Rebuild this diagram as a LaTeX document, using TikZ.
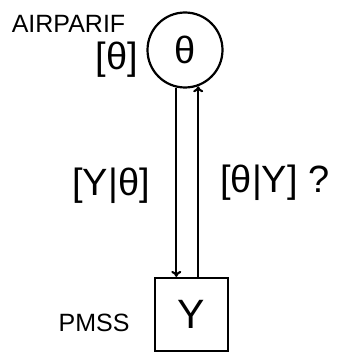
\documentclass[tikz,border=0pt]{standalone}
\usepackage{fontspec}
\setmainfont{Liberation Sans}
\usetikzlibrary{arrows.meta}
\begin{document}
\begin{tikzpicture}[x=1pt,y=1pt,
  lbl/.style={inner sep=0pt,font=\fontsize{38}{40}\selectfont},
  small/.style={inner sep=0pt,font=\fontsize{25}{28}\selectfont},
  conn/.style={line width=2.1pt,-{To[length=6pt,width=10pt]}}]
\useasboundingbox (0,0) rectangle (339,354);
\node[circle,draw,line width=2.2pt,minimum size=75pt,inner sep=0pt,font=\fontsize{38}{40}\selectfont] (theta) at (185,304) {θ};
\node[rectangle,draw,line width=2.2pt,minimum size=73pt,inner sep=0pt,font=\fontsize{41}{44}\selectfont] (Y) at (191.5,39.5) {Y};
\node[small] (air) at (68.5,330) {AIRPARIF};
\node[lbl] (prior) at (117,294) {[θ]};
\node[lbl] (lik) at (111,168) {[Y|θ]};
\node[lbl] (post) at (275,171) {[θ|Y] ?};
\node[small] (pmss) at (94,31.5) {PMSS};
\draw[conn] (theta.257.85) -- (theta.257.85 |- Y.north);
\draw[conn] (theta.290 |- Y.north) -- (theta.290);
\end{tikzpicture}
\end{document}
